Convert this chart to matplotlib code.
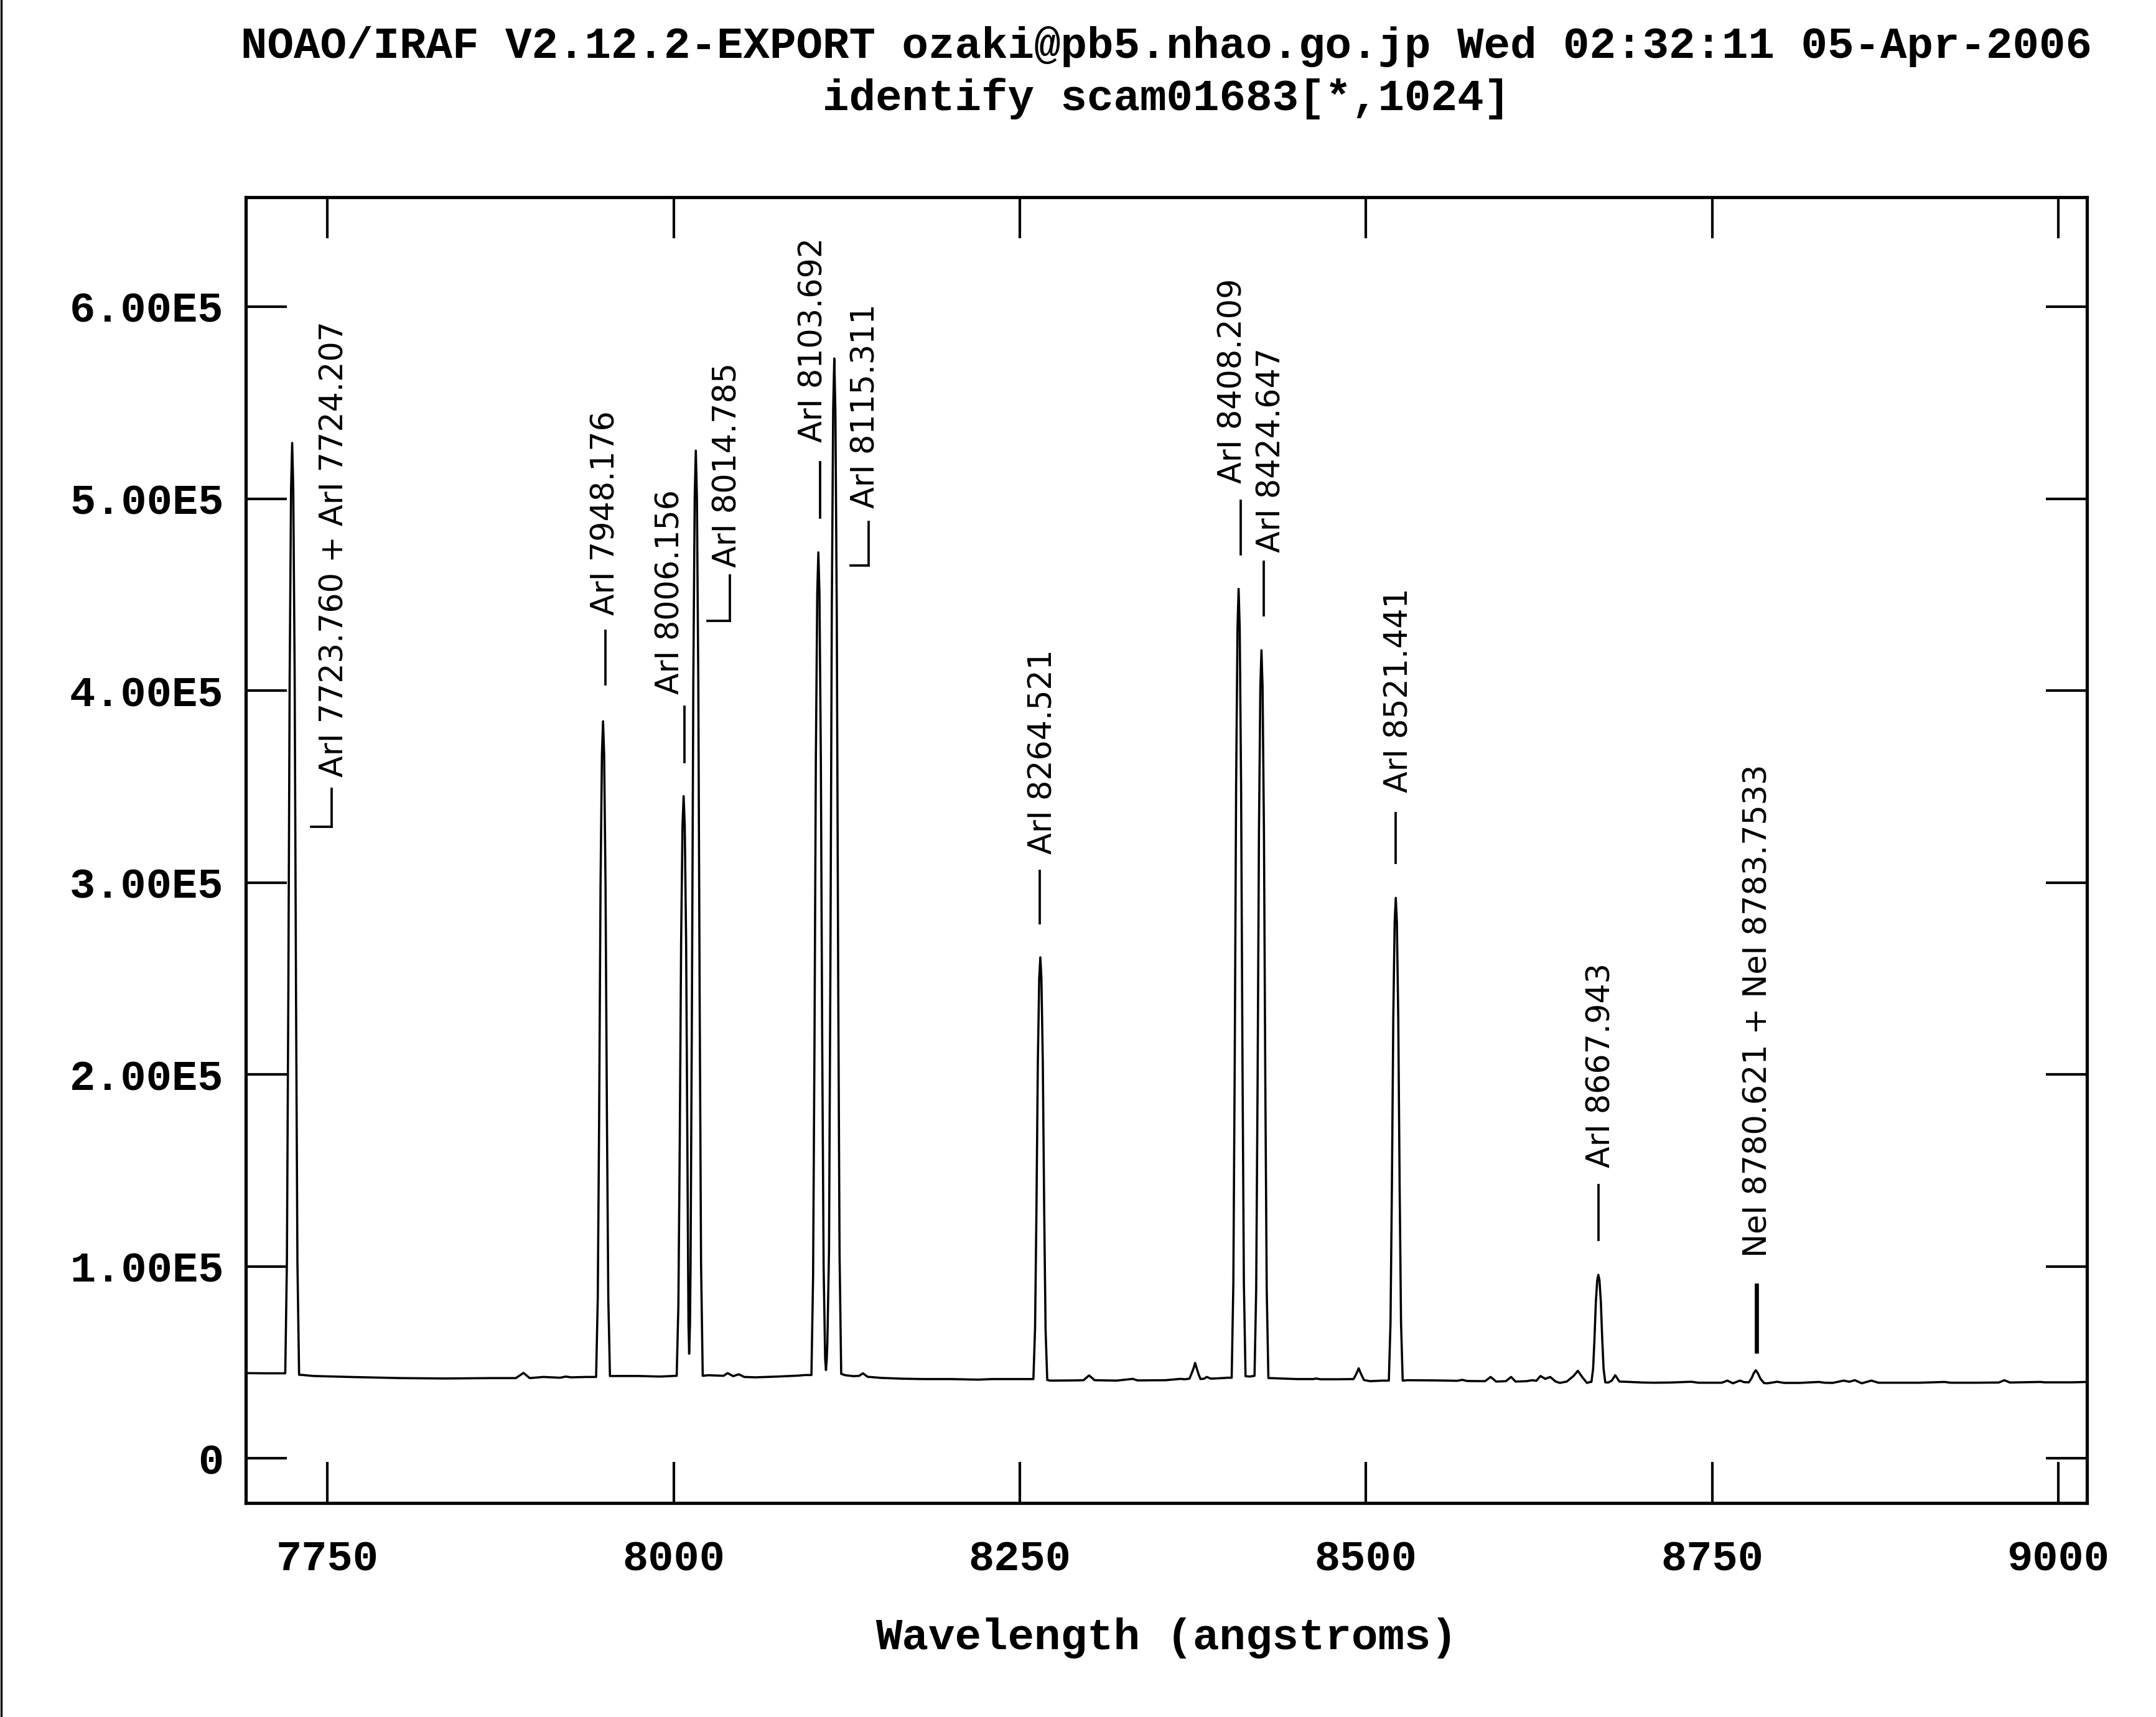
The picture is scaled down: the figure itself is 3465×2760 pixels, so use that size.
import matplotlib
matplotlib.use('Agg')
import matplotlib.pyplot as plt
from matplotlib.ticker import FixedLocator, FuncFormatter
from matplotlib.lines import Line2D

# spectrum (wavelength in angstroms, counts)
wave = [7691, 7705, 7716,
        7719.5, 7720.7, 7721.7, 7722.7, 7723.7, 7724.5, 7725.3, 7726.3, 7727.3, 7728.3, 7729.5,
        7731, 7740, 7766, 7803, 7835, 7868, 7886, 7891.6, 7896, 7906, 7918, 7922, 7926, 7937,
        7944.0, 7945.2, 7946.2, 7947.2, 7948.2, 7949.0, 7949.8, 7950.8, 7951.8, 7952.8, 7954.0,
        7960, 7975, 7990,
        8002.2, 8003.4, 8004.4, 8005.4, 8006.4, 8007.2, 8008.0, 8009.0, 8010.0, 8010.7, 8011.2,
        8011.8, 8012.2, 8013.2, 8014.2, 8015.2, 8016.0, 8016.8, 8017.8, 8018.8, 8019.8, 8021.0,
        8025, 8036, 8039, 8043, 8047, 8051, 8059, 8075, 8090, 8095,
        8099.5, 8100.7, 8101.7, 8102.7, 8103.7, 8104.5, 8105.3, 8106.3, 8107.3, 8108.3, 8109.4,
        8110.0, 8110.6, 8111.0, 8112.2, 8113.2, 8114.2, 8115.2, 8116.0, 8116.8, 8117.8, 8118.8,
        8119.8, 8121.0,
        8124, 8130, 8134, 8136.7, 8140, 8150, 8165, 8180, 8200, 8220, 8230, 8257,
        8259.8, 8261.0, 8262.0, 8263.0, 8264.0, 8264.8, 8265.6, 8266.6, 8267.6, 8268.6, 8269.8,
        8272, 8290, 8296, 8300, 8304, 8320, 8331.5, 8335, 8355, 8366, 8369,
        8372.5, 8374.2, 8375.5, 8376.6, 8377.7, 8379, 8380.5, 8383, 8385, 8388, 8396, 8400,
        8403.0, 8404.2, 8405.2, 8406.2, 8407.2, 8408.0, 8408.8, 8409.8, 8410.8, 8411.8, 8413.0,
        8416.0,
        8419.5, 8420.7, 8421.7, 8422.7, 8423.7, 8424.5, 8425.3, 8426.3, 8427.3, 8428.3, 8429.5,
        8431, 8450, 8462, 8464, 8467, 8480, 8489, 8491, 8493, 8494.7, 8496.4, 8498.5, 8503, 8512,
        8516.5, 8517.7, 8518.7, 8519.7, 8520.7, 8521.5, 8522.3, 8523.3, 8524.3, 8525.3, 8526.5,
        8530, 8550, 8566, 8569.5, 8573, 8586, 8590, 8594, 8601, 8604.8, 8608, 8616, 8620, 8623,
        8626, 8629.5, 8633, 8637, 8640, 8645, 8650, 8653, 8656, 8659.5, 8662,
        8662.8, 8664.0, 8665.0, 8666.0, 8667.0, 8667.8, 8668.6, 8669.6, 8670.6, 8671.6, 8672.8,
        8675, 8677.5, 8680, 8683, 8687, 8700, 8708, 8720, 8735, 8740, 8757, 8761, 8765, 8770, 8773,
        8776.5, 8778.5, 8780, 8781.5, 8783, 8785, 8787.5, 8790, 8797, 8802, 8813, 8827, 8831, 8837,
        8845, 8849, 8853, 8858, 8865, 8870, 8900, 8918, 8922, 8941, 8957, 8961, 8965, 8987, 8990,
        9010, 9021]
flux = [44400, 44300, 44300,
        44300, 102500, 238300, 408000, 505000, 529000, 505000, 408000, 238000, 101700, 43500,
        43500, 42900, 42400, 41800, 41600, 41800, 41800, 44500, 41800, 42400, 42000, 42600, 42200, 42400,
        42400, 83400, 179000, 298600, 366900, 384000, 366900, 298600, 179000, 83500, 42900,
        42900, 42900, 42600,
        43000, 79200, 163800, 269500, 329900, 345000, 329900, 269500, 150000, 70000, 54500,
        70000, 100000, 235800, 404500, 500900, 525000, 500900, 404500, 235800, 100800, 43000,
        43300, 43000, 44400, 42800, 43800, 42400, 42200, 42600, 43100, 43400,
        43400, 94800, 214800, 364900, 450600, 472000, 450600, 364900, 214800, 100000, 52000,
        46000, 52000, 60000, 108400, 256200, 441000, 546600, 573000, 546000, 440000, 255000,
        107000, 44000,
        43300, 42800, 43000, 44300, 42500, 41900, 41500, 41300, 41300, 41000, 41300, 41300,
        41300, 67700, 129200, 206100, 250000, 261000, 250000, 206100, 129000, 67000, 40800,
        40500, 40600, 40700, 43200, 40700, 40500, 41400, 40600, 40700, 41400, 41200,
        41500, 44500, 47000, 49700, 47000, 44000, 41300, 41500, 42400, 41500, 41800, 42000,
        42000, 91300, 206400, 350300, 432500, 453000, 432500, 350300, 206400, 91500, 42800,
        42600,
        43000, 88400, 194200, 326500, 402100, 421000, 402100, 326500, 194000, 88000, 41800,
        41800, 41300, 41300, 41600, 41200, 41200, 41300, 41300, 44000, 46900, 44000, 40800, 40200, 40500,
        40500, 70700, 141100, 229100, 279400, 292000, 279400, 229100, 141100, 70700, 40500,
        40700, 40600, 40400, 40900, 40300, 40200, 42400, 40000, 40200, 42400, 40000, 40200, 40700, 40400,
        42900, 41400, 42400, 40000, 39300, 40000, 43000, 45600, 42500, 39300, 39800,
        39800, 46500, 62100, 81650, 92800, 95600, 92800, 81650, 62100, 46500, 39600,
        39500, 40500, 43300, 40000, 39900, 39500, 39400, 39500, 39900, 39400, 39400, 40500, 39100, 40500, 39700,
        39600, 41800, 44300, 45900, 44300, 41300, 39200, 39100, 39900, 39300, 39300, 39800, 39400, 39300,
        40500, 39900, 40700, 39100, 40500, 39400, 39400, 39800, 39400, 39400, 39500, 40700, 39500, 39800, 39600,
        39600, 39800]

# line identifications
label_text = ['ArI 7723.760 + ArI 7724.207', 'ArI 7948.176', 'ArI 8006.156', 'ArI 8014.785',
              'ArI 8103.692', 'ArI 8115.311', 'ArI 8264.521', 'ArI 8408.209', 'ArI 8424.647',
              'ArI 8521.441', 'ArI 8667.943', 'NeI 8780.621 + NeI 8783.7533']
label_x = [7755, 7950.8, 7997.6, 8039, 8101, 8138.7, 8267, 8403.8, 8431.8, 8524, 8669.8, 8783]
label_y = [354900, 439200, 398100, 464200, 529300, 495100, 314800, 508100, 472000, 346800, 151400, 104800]
mark_x = [7753, 7950.6, 8007.6, 8040.7, 8105.7, 8141, 8264.5, 8409.3, 8426, 8521.4, 8667.7, 8782]
mark_y0 = [329000, 403200, 362700, 436300, 490000, 465200, 278800, 471000, 439200, 310200, 113800, 55900]
mark_y1 = [348800, 431100, 391700, 460000, 519000, 487800, 306000, 498900, 467100, 336100, 142300, 90100]
mark_width = [0.9, 0.9, 0.9, 0.9, 0.9, 0.9, 0.9, 0.9, 0.9, 0.9, 0.9, 1.6]
# short horizontal legs at the foot of some marks (label index, left end)
hook_idx = [0, 3, 5]
hook_x0 = [7738.3, 8024.5, 8127.7]

xticks = [7750, 8000, 8250, 8500, 8750, 9000]
yticks = [0, 100000, 200000, 300000, 400000, 500000, 600000]

mono = 'Liberation Mono'

fig = plt.figure(figsize=(11.55, 9.2), dpi=300)
ax = fig.add_axes([0.114, 0.1246, 0.854, 0.7605])

ax.plot(wave, flux, color='black', lw=0.85)

for i in range(len(label_text)):
    ax.text(label_x[i], label_y[i], label_text[i], rotation=90, ha='center', va='bottom',
            fontsize=12.2, family='DejaVu Sans', color='black')
    ax.plot([mark_x[i], mark_x[i]], [mark_y0[i], mark_y1[i]], color='black', lw=mark_width[i])
for k in range(len(hook_idx)):
    i = hook_idx[k]
    ax.plot([hook_x0[k], mark_x[i]], [mark_y0[i], mark_y0[i]], color='black', lw=0.9)

ax.set_xlim(7691, 9020.7)
ax.set_ylim(-23300, 657000)
ax.xaxis.set_major_locator(FixedLocator(xticks))
ax.yaxis.set_major_locator(FixedLocator(yticks))
ax.xaxis.set_major_formatter(FuncFormatter(lambda v, p: '%d' % v))
ax.yaxis.set_major_formatter(FuncFormatter(lambda v, p: '0' if v == 0 else '%.2fE5' % (v / 1e5)))
ax.tick_params(axis='both', which='major', direction='in', length=15.8, width=1.0,
               top=True, right=True)
ax.tick_params(axis='x', pad=14)
ax.tick_params(axis='y', pad=8.5)
for lab in ax.get_xticklabels() + ax.get_yticklabels():
    lab.set_family(mono)
    lab.set_fontsize(16.5)
    lab.set_fontweight('bold')
for s in ax.spines.values():
    s.set_linewidth(1.25)

ax.set_xlabel('Wavelength (angstroms)', family=mono, fontsize=17.0, fontweight='bold')
ax.xaxis.label.set_va('center')
ax.xaxis.set_label_coords(0.5, -0.1035)

fig.text(0.541, 0.9728, 'NOAO/IRAF V2.12.2-EXPORT ozaki@pb5.nhao.go.jp Wed 02:32:11 05-Apr-2006',
         ha='center', va='center', family=mono, fontsize=17.0, fontweight='bold')
fig.text(0.541, 0.9425, 'identify scam01683[*,1024]',
         ha='center', va='center', family=mono, fontsize=17.0, fontweight='bold')

# scanned page edge on the left
fig.add_artist(Line2D([0.0006, 0.0006], [0, 1], transform=fig.transFigure, color='black', lw=0.8))

fig.savefig('out.png', dpi=300, facecolor='white')
